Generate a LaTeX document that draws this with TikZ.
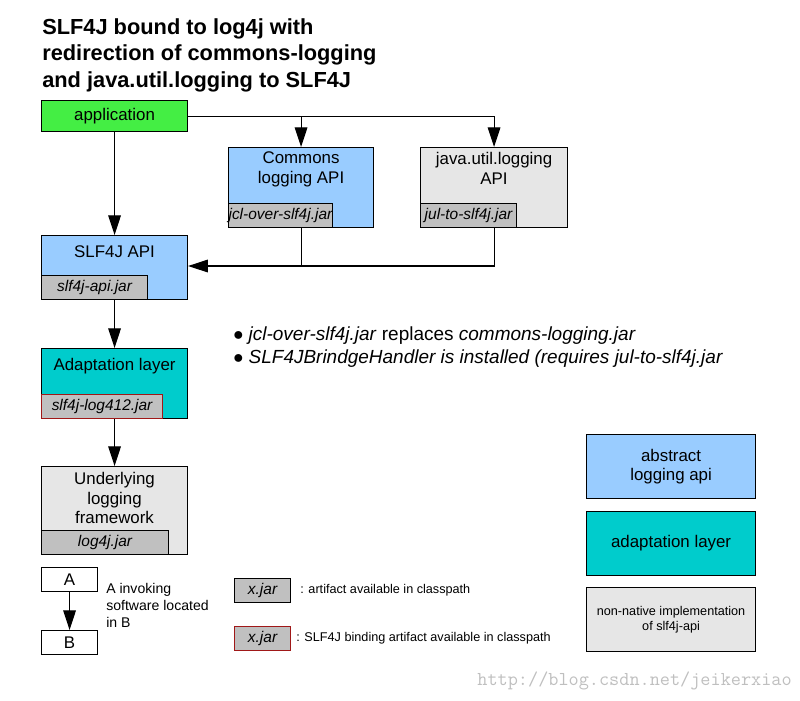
\documentclass[tikz,border=0pt]{standalone}
\usepackage{fontspec}
\setmainfont{Liberation Sans}
\usetikzlibrary{arrows.meta,positioning}
\definecolor{appgreen}{HTML}{44EE44}
\definecolor{apiblue}{HTML}{99CCFF}
\definecolor{adapt}{HTML}{00CCCC}
\definecolor{native}{HTML}{E6E6E6}
\definecolor{jargray}{HTML}{C0C0C0}
\definecolor{bindred}{HTML}{A01818}
\tikzset{
  box/.style 2 args={draw, thick, anchor=north west, inner sep=0pt,
    minimum width=#1*0.025cm, minimum height=#2*0.025cm},
  jar/.style={draw, thick, fill=jargray, anchor=north west, inner sep=0pt,
    minimum height=0.6cm, font=\itshape\fontsize{11}{13}\selectfont},
  lbl/.style={anchor=north, align=center, font=\large, inner sep=0pt},
  link/.style={thick, -{Triangle[length=14pt,width=9pt]}}
}
\begin{document}
\begin{tikzpicture}[x=0.025cm, y=-0.025cm]
  \useasboundingbox (0,0) rectangle (800,700);
  % title
  \node[anchor=north west, align=left, font=\bfseries\fontsize{15.5}{19}\selectfont, inner sep=0pt] (title) at (42,18)
    {SLF4J bound to log4j with\\redirection of commons-logging\\and java.util.logging to SLF4J};

  % main boxes
  \node[box={146}{31}, fill=appgreen, font=\large] (app) at (41,100) {application};
  \node[box={145}{80}, fill=apiblue] (jcl) at (228,147) {};
  \node[lbl] at ([yshift=-0.12cm]jcl.north) {Commons\\logging API};
  \node[jar, minimum width=93*0.025cm, anchor=south west] (jcljar) at (jcl.south west) {jcl-over-slf4j.jar};
  \node[box={147}{80}, fill=native] (jul) at (420,147) {};
  \node[lbl] at ([yshift=-0.12cm]jul.north) {java.util.logging\\API};
  \node[jar, minimum width=96*0.025cm, anchor=south west] (juljar) at (jul.south west) {jul-to-slf4j.jar};
  \node[box={146}{64}, fill=apiblue] (api) at (41,235) {};
  \node[lbl] at ([yshift=-0.25cm]api.north) {SLF4J API};
  \node[jar, minimum width=106*0.025cm, anchor=south west] (apijar) at (api.south west) {slf4j-api.jar};
  \node[box={146}{70}, fill=adapt] (adp) at (41,348) {};
  \node[lbl] at ([yshift=-0.25cm]adp.north) {Adaptation layer};
  \node[jar, draw=bindred, minimum width=121*0.025cm, anchor=south west] (adpjar) at (adp.south west) {slf4j-log412.jar};
  \node[box={146}{88}, fill=native] (ulf) at (41,466) {};
  \node[lbl] at ([yshift=-0.15cm]ulf.north) {Underlying\\logging\\framework};
  \node[jar, minimum width=127*0.025cm, anchor=south west] (ulfjar) at (ulf.south west) {log4j.jar};

  % connectors
  \draw[link] (app.south) -- (api.north);
  \coordinate (fork) at (jcl.north |- app.east);
  \draw[thick] (app.east) -- (fork) -- (jul.north |- app.east);
  \draw[link] (fork) -- (jcl.north);
  \draw[link] (jul.north |- app.east) -- (jul.north);
  \coordinate (join) at (jcl.south |- 0,266);
  \draw[thick] (jcl.south) -- (join) -- (jul.south |- 0,266) -- (jul.south);
  \draw[link] (join) -- (api.east |- 0,266);
  \draw[link] (api.south) -- (adp.north);
  \draw[link] (adp.south) -- (ulf.north);

  % notes
  \node[anchor=west, align=left, font=\fontsize{13.5}{16}\selectfont, inner sep=0pt] (notes) at (233,347)
    {$\bullet$ \textit{jcl-over-slf4j.jar} replaces \textit{commons-logging.jar}\\
     $\bullet$ \textit{SLF4JBrindgeHandler is installed (requires jul-to-slf4j.jar}};

  % legend
  \node[box={56}{24}, fill=white, font=\large] (la) at (41,567) {A};
  \node[box={56}{24}, fill=white, font=\large] (lb) at (41,630) {B};
  \draw[link] (la) -- (lb);
  \node[anchor=north west, align=left, inner sep=0pt] (linv) at (106,583) {A invoking\\software located\\in B};
  \node[jar, minimum width=56*0.025cm] (xjar) at (234,578) {x.jar};
  \node[anchor=west, font=\small, inner sep=0pt] (xtxt) at (300,590) {: artifact available in classpath};
  \node[jar, draw=bindred, minimum width=56*0.025cm] (xbind) at (234,626) {x.jar};
  \node[anchor=west, font=\small, inner sep=0pt] (btxt) at (296,638) {: SLF4J binding artifact available in classpath};
  \node[box={169}{64}, fill=apiblue, font=\large, align=center] (kapi) at (586,434) {abstract\\logging api};
  \node[box={169}{64}, fill=adapt, font=\large] (kadp) at (586,511) {adaptation layer};
  \node[box={169}{64}, fill=native, font=\small, align=center] (knat) at (586,587) {non-native implementation\\of slf4j-api};

  \node[anchor=east, font=\ttfamily\fontsize{14}{16}\selectfont, text=black!25, inner sep=0pt] (mark) at (792,681) {http://blog.csdn.net/jeikerxiao};
\end{tikzpicture}
\end{document}
